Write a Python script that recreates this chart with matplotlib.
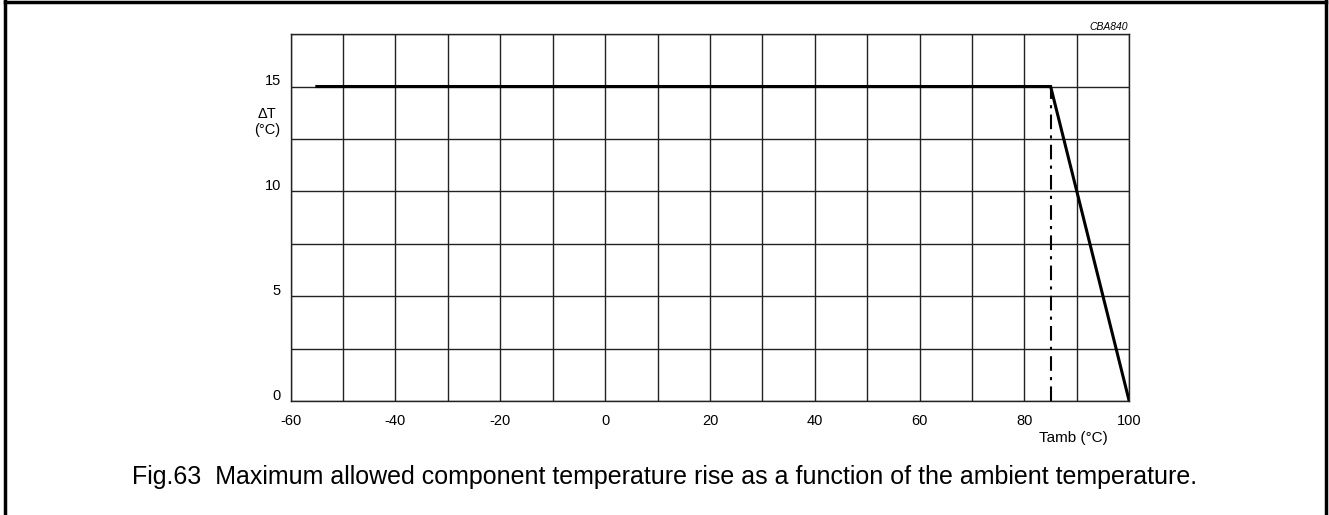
import matplotlib
matplotlib.use('Agg')
import matplotlib.pyplot as plt
import matplotlib.transforms as mtransforms
from matplotlib.lines import Line2D

plt.rcParams['font.family'] = ['Liberation Sans', 'DejaVu Sans']
plt.rcParams['axes.unicode_minus'] = False

# curve: max temperature rise vs ambient temperature
t_amb = [-55, 85, 100]
delta_t = [15, 15, 0]
# dash-dot marker at the knee
knee_x = [85, 85]
knee_y = [0, 15]

x_ticks = [-60, -40, -20, 0, 20, 40, 60, 80, 100]
y_ticks = [0, 5, 10, 15]

fig = plt.figure(figsize=(13.29, 5.15), dpi=100)
ax = fig.add_axes([0.2187, 0.2208, 0.6310, 0.7131])

ax.plot(t_amb, delta_t, color='black', linewidth=2.2, solid_joinstyle='miter', zorder=3)
ax.plot(knee_x, knee_y, color='black', linewidth=1.5, linestyle='-.', dashes=(7, 3, 1.5, 3), zorder=3)

ax.set_xlim(-60, 100)
ax.set_ylim(0, 17.5)
ax.set_xticks(x_ticks)
ax.set_xticks(range(-60, 101, 10), minor=True)
ax.set_yticks(y_ticks)
ax.set_yticks([i * 2.5 for i in range(8)], minor=True)
ax.grid(True, which='both', color='#222222', linewidth=1.0)
ax.tick_params(which='both', length=0)
ax.tick_params(axis='x', pad=9, labelsize=10.5)
ax.tick_params(axis='y', pad=7, labelsize=10.5)
for sp in ax.spines.values():
    sp.set_linewidth(1.0)
    sp.set_color('#222222')

# y labels sit a bit above their grid lines
off = mtransforms.ScaledTranslation(0, 7 / 100, fig.dpi_scale_trans)
for lab in ax.get_yticklabels():
    lab.set_transform(lab.get_transform() + off)

fig.text(267 / 1329, 1 - 122 / 515, '\u0394T\n(\u00b0C)', ha='center', va='center',
         fontsize=10.5, linespacing=1.1)
fig.text(1073 / 1329, 1 - 438 / 515, 'Tamb (\u00b0C)', ha='center', va='center', fontsize=11)
fig.text(1128 / 1329, 1 - 32 / 515, 'CBA840', ha='right', va='bottom', fontsize=7.5,
         style='italic')
fig.text(665 / 1329, 1 - 477 / 515,
         'Fig.63  Maximum allowed component temperature rise as a function of the ambient temperature.',
         ha='center', va='center', fontsize=18)

# frame around the figure
for xs, ys in [([5, 5], [0, 515]), ([5, 1326], [2, 2]), ([1326, 1326], [0, 515])]:
    fig.add_artist(Line2D([x / 1329 for x in xs], [1 - y / 515 for y in ys],
                          color='black', linewidth=2.5, transform=fig.transFigure))

fig.savefig('out.png', dpi=100)
